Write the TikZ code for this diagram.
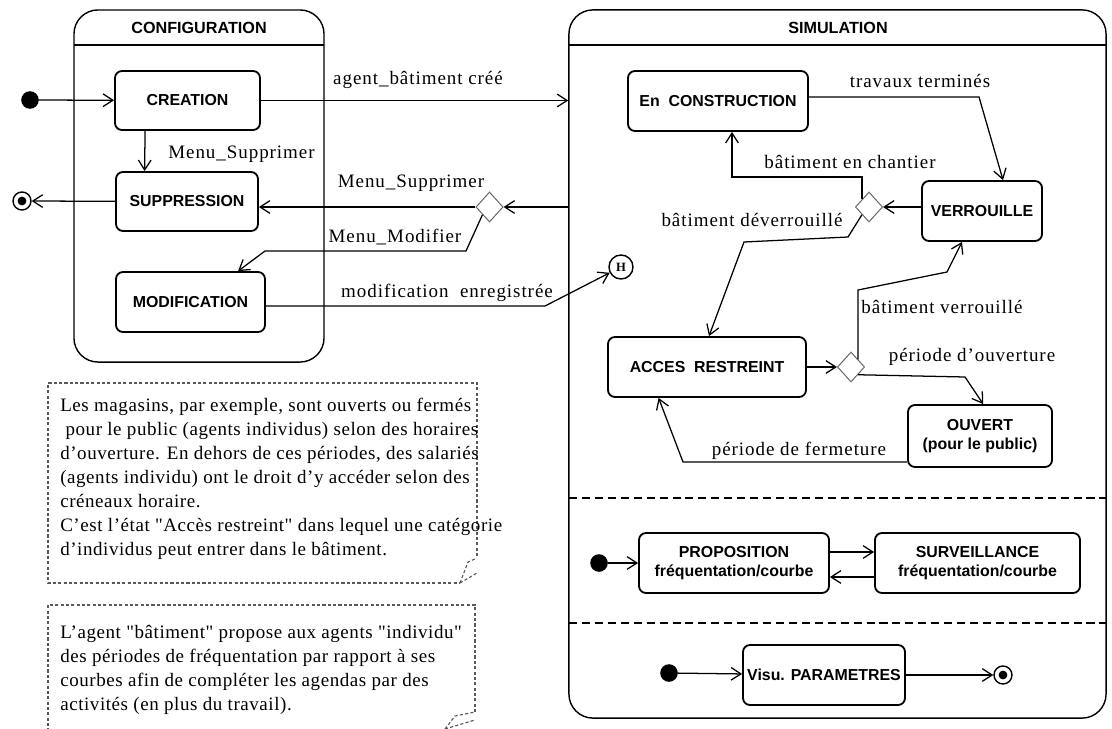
\documentclass[tikz,border=0pt]{standalone}
\usepackage{fontspec}
\setmainfont{Liberation Serif}
\setsansfont{Liberation Sans}
\newfontfamily\lblfont{Liberation Serif}[LetterSpace=5]
\newfontfamily\memofont{Liberation Serif}[LetterSpace=3]
\usetikzlibrary{arrows.meta,shapes.geometric}

\tikzset{
  etat/.style={draw, line width=1.3pt, rounded corners=5pt, inner sep=0pt, align=center,
    font=\sffamily\bfseries\fontsize{11.3}{14}\selectfont},
  bloc/.style={draw, line width=1pt, rounded corners=0.6cm, inner sep=0pt},
  titre/.style={font=\sffamily\bfseries\fontsize{11.5}{14}\selectfont},
  lbl/.style={font=\lblfont\fontsize{13.5}{16}\selectfont, inner sep=0pt},
  trans/.style={line width=0.9pt, -{Straight Barb[length=7pt,width=9pt]}},
  choix/.style={diamond, draw=black!60, line width=0.7pt, inner sep=0pt,
    minimum width=0.68cm, minimum height=0.75cm},
  debut/.style={circle, fill, inner sep=0pt, minimum size=0.44cm},
  fin/.style={circle, draw, line width=1pt, inner sep=0pt, minimum size=0.45cm,
    path picture={\fill (path picture bounding box.center) circle (0.11cm);}},
  histo/.style={circle, draw, line width=1pt, inner sep=0pt, minimum size=0.6cm,
    font=\bfseries\fontsize{9}{10}\selectfont},
  separ/.style={line width=0.9pt, dash pattern=on 5.7pt off 3.5pt},
  memo/.style={draw=black!65, line width=0.8pt, dash pattern=on 2.2pt off 1.6pt},
  memotxt/.style={font=\memofont\fontsize{13.5}{17}\selectfont, align=left,
    inner sep=0pt, anchor=north west},
}

\begin{document}
\begin{tikzpicture}[x=0.025cm, y=-0.025cm]
\useasboundingbox[fill=white] (0,0) rectangle (1112,729);

% the two composite states
\node[bloc, minimum width=6.25cm, minimum height=8.8cm] (config) at (199,186) {};
\node[titre] (tconfig) at (199,28) {CONFIGURATION};
\draw[line width=1pt] (74,45) -- (324,45);

\node[bloc, minimum width=13.425cm, minimum height=17.7cm] (sim) at (837.5,364) {};
\node[titre] (tsim) at (838,28) {SIMULATION};
\draw[line width=1pt] (569,45) -- (1106,45);
\draw[separ] (569,498) -- (1106,498);
\draw[separ] (569,623) -- (1106,623);

% configuration
\node[debut] (init1) at (30,100) {};
\node[fin] (final1) at (22,201) {};
\node[etat, minimum width=3.625cm, minimum height=1.475cm] (creation) at (187.5,100.5) {CREATION};
\node[etat, minimum width=3.55cm, minimum height=1.475cm] (suppression) at (187,201.5) {SUPPRESSION};
\node[etat, minimum width=3.725cm, minimum height=1.5cm] (modification) at (190.5,302) {MODIFICATION};
\node[choix] (cdec) at (489.5,207) {};
\node[histo] (hist) at (621,267) {H};

\draw[trans] (init1) -- (creation);
\draw[trans] ([xshift=-1.06cm]creation.south) -- ([xshift=-1.06cm]suppression.north);
\node[lbl] (lsupp1) at (241.5,154) {Menu\_Supprimer};
\draw[trans] (suppression) -- (final1);

\draw[trans] (creation.east) -- (creation.east -| sim.west);
\node[lbl] (lagent) at (418,80) {agent\_bâtiment créé};

\draw[trans] (sim.west |- cdec) -- (cdec.east);
\draw[trans] (cdec.west) -- (cdec.west -| suppression.east);
\node[lbl] (lsupp2) at (411,183) {Menu\_Supprimer};

\coordinate (m1) at (466,251);
\coordinate (m2) at (265,251);
\draw[trans] (cdec.south west) -- (m1) -- (m2) -- ([xshift=1.19cm]modification.north);
\node[lbl] (lmodif) at (395,237) {Menu\_Modifier};

\coordinate (e1) at (545,306);
\draw[trans] ([yshift=-0.1cm]modification.east) -- (e1) -- (hist);
\node[lbl] (lenreg) at (447,293) {modification\ \ enregistrée};

% simulation, first region
\node[etat, minimum width=4.5cm, minimum height=1.5cm] (construction) at (718,101) {En\ \ CONSTRUCTION};
\node[etat, minimum width=3.0cm, minimum height=1.5cm] (verrouille) at (982,211) {VERROUILLE};
\node[etat, minimum width=4.95cm, minimum height=1.5cm] (acces) at (707,367) {ACCES\ \ RESTREINT};
\node[etat, minimum width=3.6cm, minimum height=1.55cm] (ouvert) at (980,436) {OUVERT\\(pour le public)};
\node[choix] (sdec1) at (869,207) {};
\node[choix] (sdec2) at (851,367) {};

\coordinate (t1) at (979,97);
\draw[trans] ([yshift=0.1cm]construction.east) -- (t1) -- ([xshift=0.525cm]verrouille.north);
\node[lbl] (ltrav) at (920,81) {travaux terminés};

\draw[trans] (verrouille.west |- sdec1) -- (sdec1.east);

\coordinate (c1) at (732,177);
\draw[trans] (sdec1.north west) |- (c1) -- (c1 |- construction.south);
\node[lbl] (lchant) at (850,162) {bâtiment en chantier};

\coordinate (d1) at (848,237);
\coordinate (d2) at (744,242);
\draw[trans] (sdec1.south west) -- (d1) -- (d2) -- ([xshift=0.05cm]acces.north);
\node[lbl] (ldever) at (752,220) {bâtiment déverrouillé};

\draw[trans] (acces.east) -- (sdec2.west);

\coordinate (v1) at (858,290);
\coordinate (v2) at (947,272);
\draw[trans] (sdec2.north east) -- (v1) -- (v2) -- ([xshift=-0.5cm]verrouille.south);
\node[lbl] (lverr) at (942,307) {bâtiment verrouillé};

\coordinate (o1) at (965,377);
\draw[trans] (sdec2.south east) -- (o1) -- ([xshift=0.08cm]ouvert.north);
\node[lbl] (louv) at (972,357) {période d’ouverture};

\coordinate (f1) at (683,462);
\draw[trans] (ouvert.west |- f1) -- (f1) -- ([xshift=-1.21cm]acces.south);
\node[lbl] (lferm) at (799,451) {période de fermeture};

% simulation, second region
\node[debut] (init2) at (599,563) {};
\node[etat, minimum width=4.75cm, minimum height=1.5cm] (proposition) at (734,563) {PROPOSITION\\fréquentation/courbe};
\node[etat, minimum width=5.125cm, minimum height=1.5cm] (surveillance) at (977.5,563) {SURVEILLANCE\\fréquentation/courbe};
\draw[trans] (init2) -- (proposition);
\draw[trans] ([yshift=0.275cm]proposition.east) -- ([yshift=0.275cm]surveillance.west);
\draw[trans] ([yshift=-0.35cm]surveillance.west) -- ([yshift=-0.35cm]proposition.east);

% simulation, third region
\node[debut] (init3) at (669,673) {};
\node[etat, minimum width=4.05cm, minimum height=1.5cm] (visu) at (824,675) {Visu. PARAMETRES};
\node[fin] (final2) at (1003,675) {};
\draw[trans] (init3) -- (visu);
\draw[trans] (visu) -- (final2);

% notes
\draw[memo] (477,556) -- (477,383) -- (48,383) -- (48,583) -- (460,583);
\draw[memo] (460,583) -- (468,562) -- (477,558);
\draw[memo] (460,583) -- (477,573);
\node[memotxt] (note1) at (60,398) {Les magasins, par exemple, sont ouverts ou fermés\\
\ pour le public (agents individus) selon des horaires\\
d’ouverture. En dehors de ces périodes, des salariés\\
(agents individu) ont le droit d’y accéder selon des\\
créneaux horaire.\\
C’est l’état "Accès restreint" dans lequel une catégorie\\
d’individus peut entrer dans le bâtiment.};

\draw[memo] (475,712) -- (475,605) -- (48,605) -- (48,740);
\draw[memo] (445,729) -- (455,716) -- (475,712);
\draw[memo] (445,729) -- (475,720);
\node[memotxt] (note2) at (60,625) {L’agent "bâtiment" propose aux agents "individu"\\
des périodes de fréquentation par rapport à ses\\
courbes afin de compléter les agendas par des\\
activités (en plus du travail).};
\end{tikzpicture}
\end{document}
